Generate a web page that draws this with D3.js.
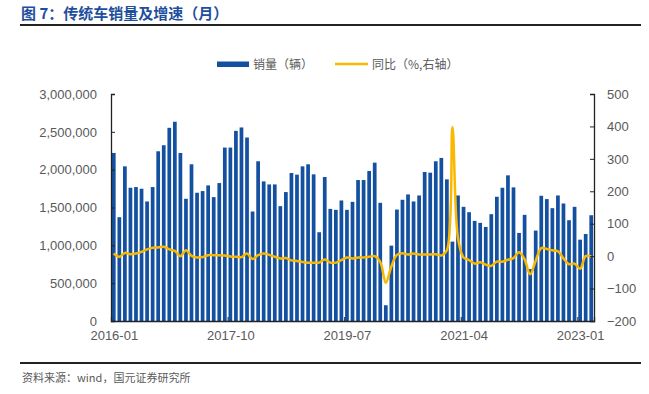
<!DOCTYPE html>
<html>
<head>
<meta charset="utf-8">
<script src="https://cdn.jsdelivr.net/npm/d3@7"></script>
<style>
  body { margin: 0; background: #fff; }
  svg { display: block; }
  .tick text { font-family: "Liberation Sans", Arial, sans-serif; font-size: 13px; fill: #595959; }
</style>
</head>
<body>
<svg id="chart" width="649" height="394"></svg>
<script>
// month categories 2016-01 .. 2023-03
const months = d3.timeMonth.range(new Date(2016, 0, 1), new Date(2023, 3, 1)).map(d3.timeFormat('%Y-%m'));
const xTickLabels = ['2016-01', '2017-10', '2019-07', '2021-04', '2023-01'];
const leftTicks = [0, 500000, 1000000, 1500000, 2000000, 2500000, 3000000];
const rightTicks = [-200, -100, 0, 100, 200, 300, 400, 500];

// 销量（辆）
const sales = [
  2221000, 1372000, 2044000, 1761000, 1770000, 1748000, 1580000, 1770000, 2243000, 2323000, 2553000, 2633000,
  2221000, 1615000, 2071000, 1695000, 1717000, 1792000, 1637000, 1823000, 2292000, 2292000, 2513000, 2558000,
  2425000, 1447000, 2111000, 1845000, 1805000, 1805000, 1518000, 1704000, 1956000, 1934000, 2044000, 2071000,
  1938000, 1173000, 1903000, 1482000, 1469000, 1593000, 1469000, 1575000, 1863000, 1863000, 1982000, 2093000,
  1562000, 208000, 996000, 1473000, 1602000, 1673000, 1580000, 1659000, 1969000, 1960000, 2111000, 2155000,
  1872000, 1049000, 1659000, 1509000, 1438000, 1323000, 1297000, 1243000, 1412000, 1642000, 1761000, 1925000,
  1766000, 1164000, 1403000, 686000, 1195000, 1655000, 1611000, 1491000, 1659000, 1553000, 1332000, 1509000,
  1075000, 1150000, 1398000
];

// 同比（%）
const yoy = [
  8, -2, 10, 6, 8, 13, 21, 26, 27, 29, 21, 16,
  0, 18, 1, -4, -3, 3, 3, 3, 2, -1, -2, -3,
  8, -9, 3, 8, 4, -2, -7, -6, -13, -15, -18, -20,
  -20, -20, -10, -20, -20, -12, -4, -7, -4, -4, -2, 0,
  -18, -82, -32, 4, 9, 5, 8, 5, 5, 5, 6, 2,
  18, 398, 55, -4, -12, -23, -19, -26, -30, -17, -17, -11,
  -6, 12, -10, -56, -14, 25, 22, 18, 15, -7, -25, -23,
  -39, 0, -1
];

const svg = d3.select('#chart');
const plotL = 111, plotR = 594, plotT = 94, plotB = 321;

const x = d3.scaleBand().domain(months).range([plotL, plotR]).paddingInner(0.33).paddingOuter(0.165);
const xAxisScale = d3.scaleLinear().domain([0, months.length]).range([plotL, plotR]);
const yL = d3.scaleLinear().domain([0, 3000000]).range([plotB, plotT]);
const yR = d3.scaleLinear().domain([-200, 500]).range([plotB, plotT]);

// title
svg.append('text')
  .attr('x', 21).attr('y', 19)
  .attr('font-family', '"Noto Sans CJK SC", sans-serif')
  .attr('font-weight', 'bold').attr('font-size', 15)
  .attr('fill', '#1f4f9c')
  .text('图 7：传统车销量及增速（月）');
svg.append('line').attr('x1', 20).attr('x2', 641).attr('y1', 25).attr('y2', 25)
  .attr('stroke', '#222').attr('stroke-width', 2);

// bars
svg.append('g').selectAll('rect')
  .data(sales)
  .join('rect')
  .attr('x', (d, i) => x(months[i]))
  .attr('y', d => yL(d))
  .attr('width', x.bandwidth())
  .attr('height', d => yL(0) - yL(d))
  .attr('fill', '#1450a0');

// line
const line = d3.line()
  .x((d, i) => x(months[i]) + x.bandwidth() / 2)
  .y(d => yR(d))
  .curve(d3.curveCatmullRom.alpha(0.5));
svg.append('path').datum(yoy)
  .attr('d', line)
  .attr('fill', 'none')
  .attr('stroke', '#fbb800')
  .attr('stroke-width', 2.5);

// axes
const gx = svg.append('g').attr('transform', `translate(0,${plotB})`)
  .call(d3.axisBottom(xAxisScale)
    .tickValues(xTickLabels.map(m => months.indexOf(m)))
    .tickFormat(i => months[i])
    .tickSize(-4).tickPadding(10));
gx.selectAll('.tick text').attr('dx', x.step() / 2);

const gl = svg.append('g').attr('transform', `translate(${plotL},0)`)
  .call(d3.axisLeft(yL).tickValues(leftTicks).tickFormat(d3.format(',')).tickSize(-4).tickPadding(14));

const gr = svg.append('g').attr('transform', `translate(${plotR},0)`)
  .call(d3.axisRight(yR).tickValues(rightTicks).tickSize(-4).tickPadding(13));

[gx, gl, gr].forEach(g => {
  g.select('.domain').attr('stroke', '#222').attr('stroke-width', 1.3);
  g.selectAll('.tick line').attr('stroke', '#222');
});

// legend
const lg = svg.append('g').attr('font-family', '"Noto Sans CJK SC", sans-serif')
  .attr('font-size', 12).attr('fill', '#595959');
lg.append('rect').attr('x', 217).attr('y', 61.5).attr('width', 32).attr('height', 5.5).attr('fill', '#1450a0');
lg.append('text').attr('x', 253).attr('y', 68.5).text('销量（辆）');
lg.append('line').attr('x1', 335).attr('x2', 368).attr('y1', 64).attr('y2', 64)
  .attr('stroke', '#fbb800').attr('stroke-width', 2.5);
lg.append('text').attr('x', 372).attr('y', 68.5).text('同比（%,右轴）');

// source
svg.append('line').attr('x1', 20).attr('x2', 641).attr('y1', 363).attr('y2', 363)
  .attr('stroke', '#222').attr('stroke-width', 2);
svg.append('text')
  .attr('x', 22).attr('y', 382)
  .attr('font-family', '"Noto Sans CJK SC", sans-serif')
  .attr('font-size', 11).attr('fill', '#595959')
  .text('资料来源：wind，国元证券研究所');
</script>
</body>
</html>
